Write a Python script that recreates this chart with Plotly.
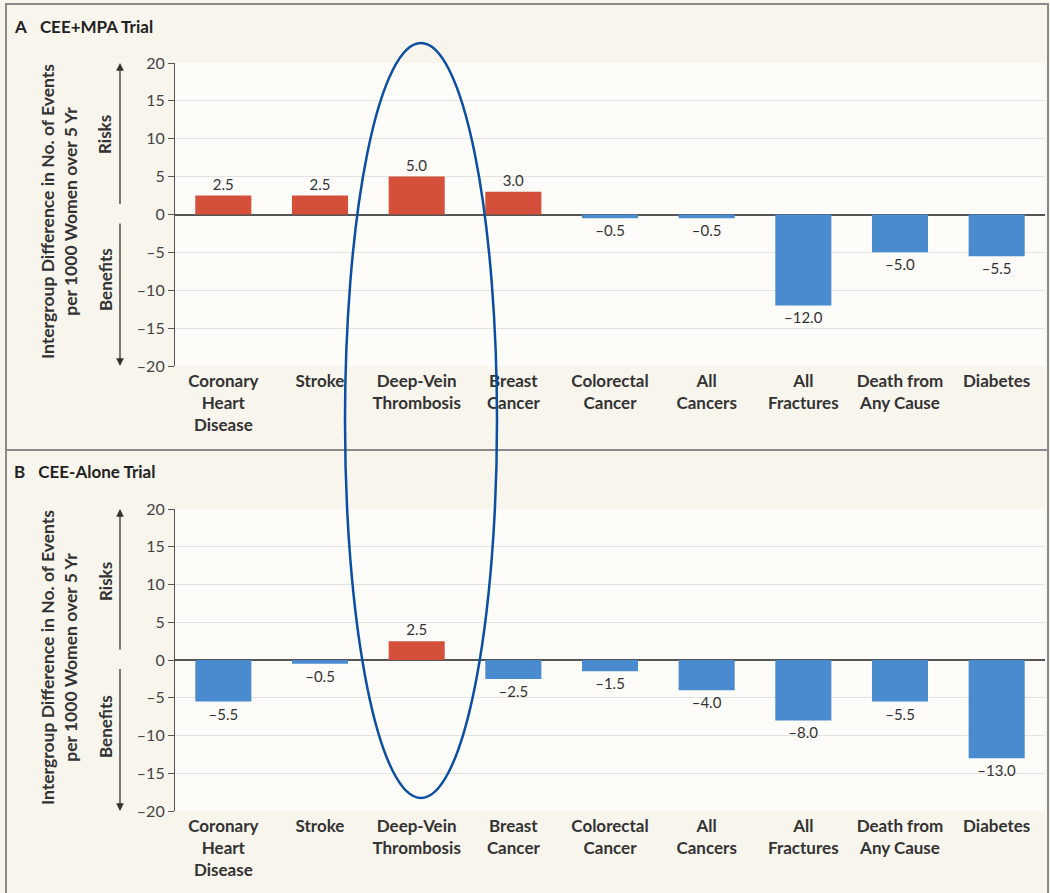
import plotly.graph_objects as go

categories = ["Coronary<br>Heart<br>Disease", "Stroke", "Deep-Vein<br>Thrombosis", "Breast<br>Cancer",
              "Colorectal<br>Cancer", "All<br>Cancers", "All<br>Fractures", "Death from<br>Any Cause", "Diabetes"]
cee_mpa = [2.5, 2.5, 5.0, 3.0, -0.5, -0.5, -12.0, -5.0, -5.5]
cee_alone = [-5.5, -0.5, 2.5, -2.5, -1.5, -4.0, -8.0, -5.5, -13.0]
tick_vals = [-20, -15, -10, -5, 0, 5, 10, 15, 20]
tick_text = ["–20", "–15", "–10", "–5", "0", "5", "10", "15", "20"]

RED = "#d5503a"
BLUE = "#4a8bd0"
FONT = "Lato"
W, H = 1050, 893
ML, MR = 175, 5


def px_x(px):
    return (px - ML) / (W - ML - MR)


def px_y(py):
    return 1 - py / H


def fmt(v):
    s = f"{abs(v):.1f}"
    return ("–" + s) if v < 0 else s


fig = go.Figure()
for vals, xa, ya in [(cee_mpa, "x", "y"), (cee_alone, "x2", "y2")]:
    fig.add_trace(go.Bar(
        x=categories, y=vals, xaxis=xa, yaxis=ya,
        marker=dict(color=[RED if v > 0 else BLUE for v in vals], line=dict(width=0)),
        text=[fmt(v) for v in vals], textposition="outside",
        textfont=dict(family=FONT, size=15, color="#333333"),
        cliponaxis=False, showlegend=False, hoverinfo="skip",
    ))

yax = dict(range=[-20, 20], tickvals=tick_vals, ticktext=tick_text, ticks="outside", ticklen=6,
           tickcolor="#555555", showline=True, linecolor="#555555", linewidth=1.2,
           gridcolor="#e3e3e3", gridwidth=1, zeroline=True, zerolinecolor="#555555",
           zerolinewidth=1.5, tickfont=dict(family=FONT, size=16, color="#444444"), fixedrange=True,
           automargin=False)
xax = dict(showline=False, ticks="", tickfont=dict(family=FONT, size=17, color="#333333", weight="bold"),
           fixedrange=True, automargin=False, ticklabelstandoff=3)

fig.update_layout(
    width=W, height=H,
    margin=dict(l=ML, r=MR, t=0, b=0, autoexpand=False),
    paper_bgcolor="#f8f5ec", plot_bgcolor="#fdfcf8",
    bargap=0.42,
    font=dict(family=FONT),
    xaxis=dict(domain=[0, 1], anchor="y", **xax),
    yaxis=dict(domain=[px_y(366), px_y(63)], anchor="x", **yax),
    xaxis2=dict(domain=[0, 1], anchor="y2", **xax),
    yaxis2=dict(domain=[px_y(811), px_y(509)], anchor="x2", **yax),
)

shapes = [
    dict(type="rect", xref="paper", yref="paper", x0=px_x(6), x1=px_x(1048), y0=px_y(900), y1=px_y(4),
         line=dict(color="#8a8a8a", width=2), layer="below"),
    dict(type="line", xref="paper", yref="paper", x0=px_x(6), x1=px_x(1048), y0=px_y(450), y1=px_y(450),
         line=dict(color="#8a8a8a", width=2)),
    dict(type="circle", xref="paper", yref="paper", x0=px_x(345), x1=px_x(497), y0=px_y(798), y1=px_y(43),
         line=dict(color="#0a4fa3", width=2.5)),
]
fig.update_layout(shapes=shapes)

annotations = []
panels = [("A", "CEE+MPA Trial", 26, "y", 212, 135, 280),
          ("B", "CEE-Alone Trial", 471, "y2", 658, 582, 727)]
for letter, title, ty, yref, ymid, yrisk, ybenefit in panels:
    annotations.append(dict(xref="paper", yref="paper", x=px_x(12), y=px_y(ty), xanchor="left", yanchor="middle",
                            text=f"<b>{letter}</b>   <b>{title}</b>", showarrow=False,
                            font=dict(family=FONT, size=17, color="#222222")))
    annotations.append(dict(xref="paper", yref="paper", x=px_x(59), y=px_y(ymid), xanchor="center", yanchor="middle",
                            text="<b>Intergroup Difference in No. of Events<br>per 1000 Women over 5 Yr</b>",
                            textangle=-90, showarrow=False,
                            font=dict(family=FONT, size=17.5, color="#333333")))
    annotations.append(dict(xref="paper", yref="paper", x=px_x(105), y=px_y(yrisk), xanchor="center",
                            yanchor="middle", text="<b>Risks</b>", textangle=-90, showarrow=False,
                            font=dict(family=FONT, size=17, color="#333333")))
    annotations.append(dict(xref="paper", yref="paper", x=px_x(105), y=px_y(ybenefit), xanchor="center",
                            yanchor="middle", text="<b>Benefits</b>", textangle=-90, showarrow=False,
                            font=dict(family=FONT, size=17, color="#333333")))
    xd = "x domain" if yref == "y" else "x2 domain"
    ax_x = px_x(120)
    annotations.append(dict(xref=xd, yref=yref, x=ax_x, y=20, axref=xd, ayref=yref, ax=ax_x, ay=1.2,
                            text="", showarrow=True, arrowhead=2, arrowsize=1.2, arrowwidth=1.3,
                            arrowcolor="#333333"))
    annotations.append(dict(xref=xd, yref=yref, x=ax_x, y=-20, axref=xd, ayref=yref, ax=ax_x, ay=-1.0,
                            text="", showarrow=True, arrowhead=2, arrowsize=1.2, arrowwidth=1.3,
                            arrowcolor="#333333"))
fig.update_layout(annotations=annotations)

fig.write_html("out.html", config={"displayModeBar": False},
               post_script="document.body.style.margin='0px';")
